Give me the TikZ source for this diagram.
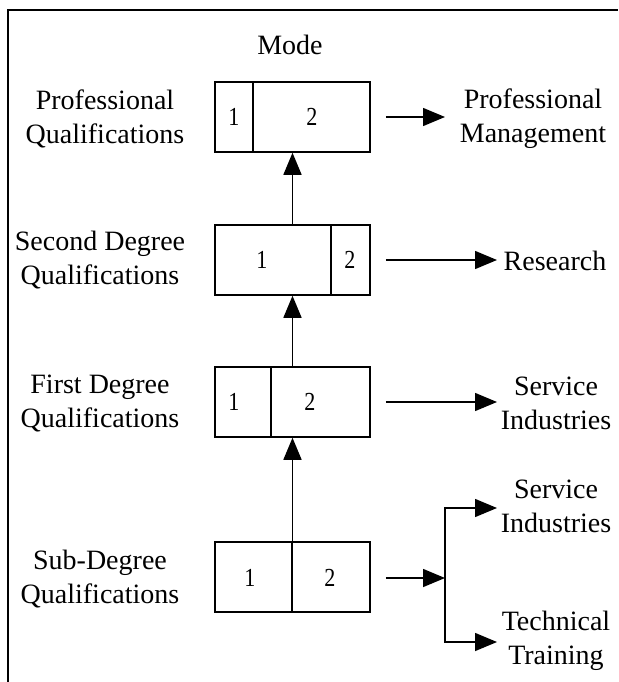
\documentclass[tikz,border=0pt]{standalone}
\usepackage{fontspec}
\setmainfont{Liberation Serif}
\usetikzlibrary{arrows.meta}
\begin{document}
\begin{tikzpicture}[x=1pt,y=-1pt,
 lbl/.style={align=center,font=\fontsize{28}{34}\selectfont,inner sep=0},
 dig/.style={font=\fontsize{26}{28}\selectfont,inner sep=0,xscale=0.85},
 modebox/.style={draw,line width=1.5pt,minimum width=155pt,minimum height=70pt,inner sep=0},
 divider/.style={line width=1.5pt},
 arr/.style={line width=1.5pt,-{Triangle[length=22pt,width=18pt]}},
 frame/.style={line width=2pt}]
\useasboundingbox (0,0) rectangle (618,682);
\draw[frame] (8,682) -- (8,10) -- (618,10);
\node[lbl] (mode) at (290,45) {Mode};
% boxes
\node[modebox] (b1) at (292.5,117) {};
\node[modebox] (b2) at (292.5,260) {};
\node[modebox] (b3) at (292.5,402) {};
\node[modebox] (b4) at (292.5,577) {};
\draw[divider] (253,82) -- (253,152);
\draw[divider] (331,225) -- (331,295);
\draw[divider] (271,367) -- (271,437);
\draw[divider] (292,542) -- (292,612);
\node[dig] (d11) at (234,117) {1};
\node[dig] (d12) at (312,117) {2};
\node[dig] (d21) at (262,260) {1};
\node[dig] (d22) at (350,260) {2};
\node[dig] (d31) at (234,402) {1};
\node[dig] (d32) at (310,402) {2};
\node[dig] (d41) at (250,578) {1};
\node[dig] (d42) at (330,578) {2};
% left labels
\node[lbl] (q1) at (105,119) {Professional\\Qualifications};
\node[lbl] (q2) at (100,260) {Second Degree\\Qualifications};
\node[lbl] (q3) at (100,403) {First Degree\\Qualifications};
\node[lbl] (q4) at (100,579) {Sub-Degree\\Qualifications};
% right labels
\node[lbl] (pm) at (533,119) {Professional\\Management};
\node[lbl] (res) at (555,261) {Research};
\node[lbl] (si1) at (556,403) {Service\\Industries};
\node[lbl] (si2) at (556,506) {Service\\Industries};
\node[lbl] (tt) at (556,641) {Technical\\Training};
% arrows
\draw[arr] ([xshift=15pt]b1.east) -- (445,117);
\draw[arr] ([xshift=15pt]b2.east) -- (497,260);
\draw[arr] ([xshift=15pt]b3.east) -- (497,402);
\coordinate (br) at (445,578);
\draw[arr] ([xshift=15pt]b4.east |- br) -- (br);
\draw[arr] (br) |- (497,508);
\draw[arr] (br) |- (497,642);
\draw[arr] (b4.north) -- (b3.south);
\draw[arr] (b3.north) -- (b2.south);
\draw[arr] (b2.north) -- (b1.south);
\end{tikzpicture}
\end{document}
